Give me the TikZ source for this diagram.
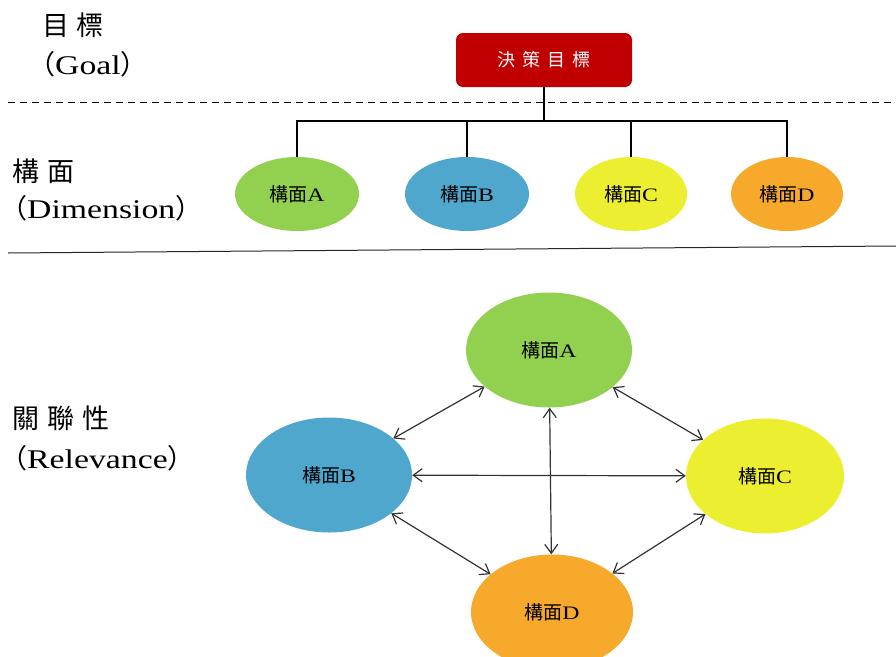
\documentclass[tikz,border=0pt]{standalone}
\usepackage{fontspec}
\setmainfont{Liberation Serif}
\newfontfamily\cjk{Noto Sans CJK TC}
\newfontfamily\widelatin[FakeStretch=1.25]{Liberation Serif}
\usetikzlibrary{shapes.geometric,arrows.meta}
\definecolor{goalred}{HTML}{C00000}
\definecolor{dimA}{HTML}{92D050}
\definecolor{dimB}{HTML}{4FA7CE}
\definecolor{dimC}{HTML}{ECEE30}
\definecolor{dimD}{HTML}{F6A92A}

\begin{document}
\begin{tikzpicture}[x=1pt, y=-1pt,
  goal/.style = {draw=none, fill=goalred, rounded corners=7pt, minimum width=176pt, minimum height=54pt, text=white, font=\cjk\fontsize{18}{18}\selectfont},
  dim/.style = {ellipse, minimum height=74pt, inner sep=0pt, font=\widelatin\fontsize{19}{19}\selectfont},
  rel/.style = {ellipse, minimum height=115pt, inner sep=0pt, font=\widelatin\fontsize{19}{19}\selectfont},
  side/.style = {anchor=west, inner sep=0pt, font=\widelatin\fontsize{27}{27}\selectfont},
  tree/.style = {line width=1.3pt},
  link/.style = {<->, >={Straight Barb[length=9pt,width=13pt]}, line width=1.2pt, draw=black!80}]
\useasboundingbox (0,0) rectangle (896,656);

% left labels
\node[side] (goalcn) at (42,25) {\cjk 目\hspace{7pt}標};
\node[side] (goalen) at (28,64) {{\cjk （}Goal{\cjk ）}};
\node[side] (dimcn) at (12,171) {\cjk 構\hspace{8pt}面};
\node[side] (dimen) at (0,208) {{\cjk （}Dimension{\cjk ）}};
\node[side] (relcn) at (12,418) {\cjk 關\hspace{8pt}聯\hspace{8pt}性};
\node[side] (relen) at (0,458) {{\cjk （}Relevance{\cjk ）}};

% separators
\draw[dash pattern=on 7pt off 5pt, line width=1pt] (8,102) -- (896,102);
\draw[line width=1pt, draw=black!85] (8,253) -- (896,246);

% goal and dimensions
\node[goal] (goal) at (544,60) {決\hspace{7pt}策\hspace{7pt}目\hspace{7pt}標};
\coordinate (hub) at (544,121);

\node[dim, fill=dimA, minimum width=124pt] (dA) at (297,194) {{\cjk 構面}A};
\node[dim, fill=dimB, minimum width=124pt] (dB) at (467,194) {{\cjk 構面}B};
\node[dim, fill=dimC, minimum width=112pt] (dC) at (631,194) {{\cjk 構面}C};
\node[dim, fill=dimD, minimum width=112pt] (dD) at (787,194) {{\cjk 構面}D};

\draw[tree] (goal.south) -- (hub);
\draw[tree] (hub) -| (dA.north);
\draw[tree] (hub) -| (dB.north);
\draw[tree] (hub) -| (dC.north);
\draw[tree] (hub) -| (dD.north);

% relevance
\node[rel, fill=dimA, minimum width=166pt] (rA) at (549,350) {{\cjk 構面}A};
\node[rel, fill=dimB, minimum width=166pt] (rB) at (329,475) {{\cjk 構面}B};
\node[rel, fill=dimC, minimum width=158pt] (rC) at (765,476) {{\cjk 構面}C};
\node[rel, fill=dimD, minimum width=162pt] (rD) at (552,612) {{\cjk 構面}D};

\draw[link] (rA) -- (rB);
\draw[link] (rA) -- (rC);
\draw[link] (rB) -- (rC);
\draw[link] (rA) -- (rD);
\draw[link] (rB) -- (rD);
\draw[link] (rC) -- (rD);
\end{tikzpicture}
\end{document}
